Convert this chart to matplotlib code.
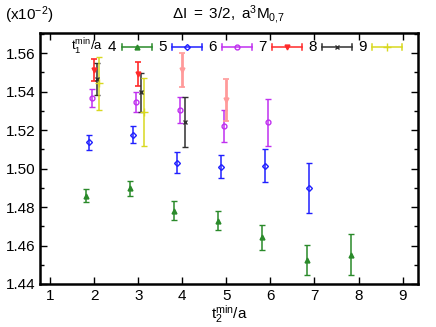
import numpy as np
import matplotlib
matplotlib.use('Agg')
from matplotlib import pyplot as plt

plt.rcParams['font.family'] = ['Liberation Sans', 'DejaVu Sans']
plt.rcParams['mathtext.fontset'] = 'custom'
plt.rcParams['mathtext.rm'] = 'Liberation Sans'
plt.rcParams['mathtext.it'] = 'Liberation Sans'

# data, values in units of 1e-2
t1_labels = ['4', '5', '6', '7', '8', '9']
offsets = [-0.18, -0.12, -0.06, 0.0, 0.06, 0.12]
colors = ['#2a8a2a', '#2020ff', '#c030f0', '#ff2a2a', '#303030', '#d8d820']
markers = ['^', 'D', 'o', 'v', 'x', '+']

t2 = {
    '4': [2, 3, 4, 5, 6, 7, 8],
    '5': [2, 3, 4, 5, 6, 7],
    '6': [2, 3, 4, 5, 6],
    '7': [2, 3, 4, 5],
    '8': [2, 3, 4],
    '9': [2, 3],
}
val = {
    '4': [1.4859, 1.4897, 1.4782, 1.4730, 1.4642, 1.4525, 1.4553],
    '5': [1.5136, 1.5177, 1.5031, 1.5010, 1.5016, 1.4899],
    '6': [1.5367, 1.5346, 1.5304, 1.5221, 1.5240],
    '7': [1.5511, 1.5492, 1.5513, 1.5356],
    '8': [1.5466, 1.5396, 1.5243],
    '9': [1.5443, 1.5292],
}
err = {
    '4': [0.0035, 0.0037, 0.0048, 0.0048, 0.0067, 0.0076, 0.0107],
    '5': [0.0040, 0.0043, 0.0056, 0.0060, 0.0085, 0.0130],
    '6': [0.0047, 0.0050, 0.0067, 0.0083, 0.0120],
    '7': [0.0058, 0.0063, 0.0090, 0.0110],
    '8': [0.0083, 0.0100, 0.0130],
    '9': [0.0136, 0.0177],
}

fig = plt.figure(figsize=(4.36, 3.27), dpi=100)
ax = fig.add_axes([0.0917, 0.1315, 0.867, 0.7675])

for lab, off, c, m in zip(t1_labels, offsets, colors, markers):
    x = np.array(t2[lab]) + off
    y = np.array(val[lab])
    e = np.array(err[lab])
    ms = 3.5 if m in ('^', 'v', 'x', 'o') else 3
    if m == '+':
        ms = 6
    mfc = c if m in ('^', 'v') else 'none'
    if lab == '7':
        # last two points look faded in the reference
        c_pts = [c, c, '#ff9a9a', '#ff9a9a']
        for xi, yi, ei, ci in zip(x, y, e, c_pts):
            ax.errorbar(xi, yi, yerr=ei, fmt=m, color=ci, mfc=ci, mec=ci,
                        ms=ms, lw=1.2 if ci == c else 2.0, capsize=2.5,
                        capthick=1.2)
    else:
        ax.errorbar(x, y, yerr=e, fmt=m, color=c, mfc=mfc, mec=c, ms=ms,
                    mew=1.0, lw=1.1, capsize=2.5, capthick=1.1)

# gnuplot style key along the top
ky = 0.945
x0 = 0.216
step = 0.1323
seg = 0.081
tr = ax.transAxes
ax.text(x0 - 0.05, ky, r'$\mathregular{t_1^{min}}$/a', transform=tr,
        ha='right', va='center', fontsize=9.5)
for i, (lab, c, m) in enumerate(zip(t1_labels, colors, markers)):
    xs = x0 + i * step
    ax.text(xs - 0.014, ky, lab, transform=tr, ha='right', va='center',
            fontsize=11)
    ax.plot([xs, xs + seg], [ky, ky], color=c, lw=1.1, transform=tr,
            clip_on=False)
    for xe in (xs, xs + seg):
        ax.plot([xe, xe], [ky - 0.012, ky + 0.012], color=c, lw=1.1,
                transform=tr, clip_on=False)
    mfc = c if m in ('^', 'v') else 'none'
    ms = 3 if m == 'D' else 3.5
    if m == '+':
        ms = 6
    ax.plot([xs + seg / 2], [ky], marker=m, color=c, mfc=mfc, mec=c,
            ms=ms, mew=1.0, transform=tr, clip_on=False)

ax.set_xlim(0.77, 9.35)
ax.set_ylim(1.44, 1.5705)
ax.set_xticks(range(1, 10))
ax.set_yticks([1.44, 1.46, 1.48, 1.50, 1.52, 1.54, 1.56])
ax.set_yticks(np.arange(1.45, 1.57, 0.02), minor=True)
ax.set_yticklabels(['1.44', '1.46', '1.48', '1.50', '1.52', '1.54', '1.56'])
ax.tick_params(which='both', direction='in', top=True, right=True,
               labelsize=11, width=1.0)
ax.tick_params(which='major', length=5)
ax.tick_params(which='minor', length=3)
for s in ax.spines.values():
    s.set_linewidth(1.8)

ax.set_xlabel(r'$\mathregular{t_2^{min}}$/a', fontsize=11, labelpad=0)
fig.text(0.524, 0.955, r'$\mathregular{\Delta I\ =\ 3/2,\ a^3M_{0{,}7}}$',
         ha='center', va='center', fontsize=11)
fig.text(0.012, 0.955, r'(x10$\mathregular{^{-2}}$)', ha='left',
         va='center', fontsize=11)

fig.savefig('out.png', dpi=100)
